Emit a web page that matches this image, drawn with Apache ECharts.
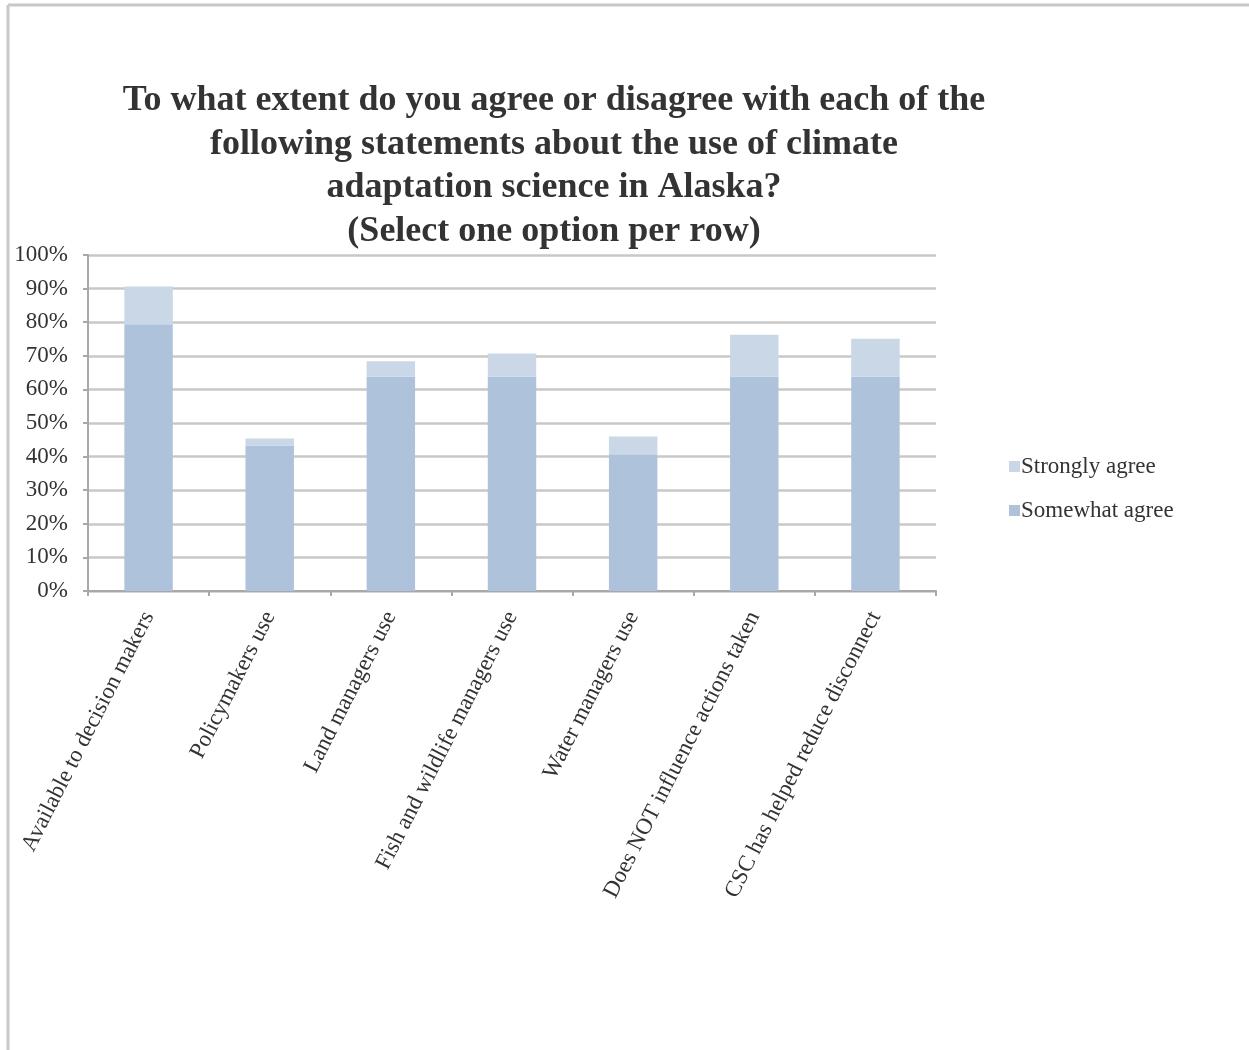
<!DOCTYPE html>
<html>
<head>
<meta charset="utf-8">
<script src="https://cdn.jsdelivr.net/npm/echarts@6/dist/echarts.min.js"></script>
<style>
  html, body { margin: 0; padding: 0; background: #ffffff; }
  #chart { width: 1249px; height: 1050px; }
</style>
</head>
<body>
<div id="chart"></div>
<script>
// Survey categories (x axis)
const categories = [
  'Available to decision makers',
  'Policymakers use',
  'Land managers use',
  'Fish and wildlife managers use',
  'Water managers use',
  'Does NOT influence actions taken',
  'CSC has helped reduce disconnect'
];
// Share of respondents (%) per answer
const somewhatAgree = [79.4, 43.3, 63.8, 63.8, 40.7, 63.8, 63.8];
const stronglyAgree = [11.2, 2.1, 4.6, 6.9, 5.3, 12.5, 11.3];

const titleLines = [
  'To what extent do you agree or disagree with each of the',
  'following statements about the use of climate',
  'adaptation science in Alaska?',
  '(Select one option per row)'
];

const serif = '"Liberation Serif", "Times New Roman", "DejaVu Serif", serif';
const textColor = '#333333';
const gridColor = '#c8c8c8';
const axisColor = '#a8a8a8';
const labelSize = 23;

const chart = echarts.init(document.getElementById('chart'), null, { renderer: 'canvas' });

chart.setOption({
  backgroundColor: '#ffffff',
  animation: false,
  textStyle: { fontFamily: serif },
  graphic: [
    // frame around the chart area (top and left edges)
    { type: 'line', shape: { x1: 8, y1: 5, x2: 1249, y2: 5 }, style: { stroke: '#c8c8c8', lineWidth: 3 } },
    { type: 'line', shape: { x1: 8, y1: 5, x2: 8, y2: 1050 }, style: { stroke: '#c8c8c8', lineWidth: 3 } },
    {
      type: 'text',
      x: 554,
      y: 79,
      style: {
        text: titleLines.join('\n'),
        fontFamily: serif,
        fontSize: 36,
        fontWeight: 'bold',
        lineHeight: 43.5,
        fill: textColor,
        textAlign: 'center',
        textVerticalAlign: 'top'
      }
    }
  ],
  legend: {
    orient: 'vertical',
    left: 1004,
    top: 450,
    itemWidth: 11,
    itemHeight: 11,
    itemGap: 21,
    icon: 'rect',
    data: ['Strongly agree', 'Somewhat agree'],
    textStyle: { fontFamily: serif, fontSize: labelSize, color: textColor, padding: [0, 0, 0, -4] }
  },
  grid: { left: 88, right: 313, top: 255, bottom: 459, containLabel: false },
  xAxis: {
    type: 'category',
    data: categories,
    axisLine: { lineStyle: { color: axisColor, width: 2 } },
    axisTick: { show: true, alignWithLabel: false, length: 5, lineStyle: { color: axisColor, width: 2 } },
    axisLabel: {
      interval: 0,
      rotate: 63,
      margin: 22,
      fontFamily: serif,
      fontSize: labelSize,
      color: textColor
    }
  },
  yAxis: {
    type: 'value',
    min: 0,
    max: 100,
    interval: 10,
    axisLine: { show: true, lineStyle: { color: axisColor, width: 2 } },
    axisTick: { show: true, length: 5, lineStyle: { color: axisColor, width: 2 } },
    splitLine: { lineStyle: { color: gridColor, width: 2.5 } },
    axisLabel: {
      formatter: '{value}%',
      margin: 20,
      fontFamily: serif,
      fontSize: labelSize,
      color: textColor
    }
  },
  series: [
    {
      name: 'Somewhat agree',
      type: 'bar',
      stack: 'agree',
      barWidth: '40%',
      itemStyle: { color: '#aec2dc' },
      data: somewhatAgree
    },
    {
      name: 'Strongly agree',
      type: 'bar',
      stack: 'agree',
      barWidth: '40%',
      itemStyle: { color: '#c9d7e7' },
      data: stronglyAgree
    }
  ]
});
</script>
</body>
</html>
